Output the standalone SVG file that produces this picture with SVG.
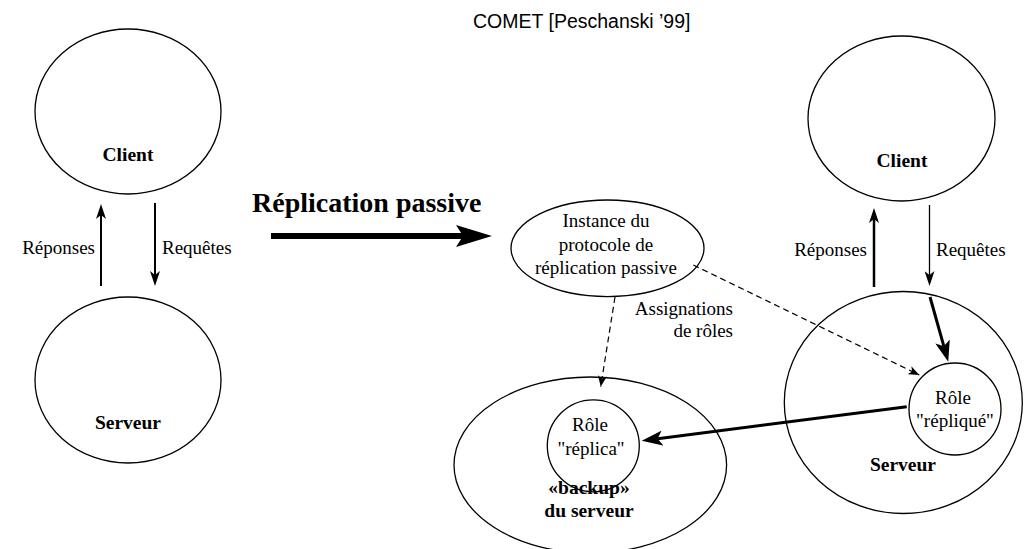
<svg xmlns="http://www.w3.org/2000/svg" width="1029" height="549" viewBox="0 0 1029 549">
<style>
.shape{fill:none;stroke:#000;stroke-width:1.3}
.t{font-family:"Liberation Serif","Times New Roman",serif;font-size:19px;fill:#000}
.b{font-family:"Liberation Serif","Times New Roman",serif;font-size:19.5px;font-weight:bold;fill:#000}
.c{text-anchor:middle}
.e{text-anchor:end}
.ln{fill:none;stroke:#000}
.dash{fill:none;stroke:#000;stroke-width:1.2;stroke-dasharray:6 4}
</style>
<defs>
<marker id="arr" markerUnits="userSpaceOnUse" markerWidth="15" markerHeight="10" refX="4" refY="5" orient="auto">
<path d="M0,0 L15,5 L0,10 L4,5 z" fill="#000"/>
</marker>
<marker id="arrL" markerUnits="userSpaceOnUse" markerWidth="21" markerHeight="15" refX="5" refY="7.5" orient="auto">
<path d="M0,0 L21,7.5 L0,15 L5,7.5 z" fill="#000"/>
</marker>
<marker id="arrD" markerUnits="userSpaceOnUse" markerWidth="11" markerHeight="9" refX="11" refY="4.5" orient="auto">
<path d="M0,0 L11,4.5 L0,9 L3,4.5 z" fill="#000"/>
</marker>
<marker id="arrB" markerUnits="userSpaceOnUse" markerWidth="36" markerHeight="22" refX="7" refY="11" orient="auto">
<path d="M0,0 L36,11 L0,22 L7,11 z" fill="#000"/>
</marker>
</defs>
<rect width="1029" height="549" fill="#fff"/>
<text x="473" y="28" font-family="'Liberation Sans',Arial,sans-serif" font-size="19.5" fill="#000">COMET [Peschanski ’99]</text>
<text x="252" y="212" font-family="'Liberation Serif','Times New Roman',serif" font-size="28" font-weight="bold" fill="#000">Réplication passive</text>

<g id="client-left">
<ellipse class="shape" cx="128" cy="111.5" rx="93" ry="82.5"/>
<text class="b c" x="128" y="161">Client</text>
</g>
<g id="serveur-left">
<ellipse class="shape" cx="128" cy="380" rx="93" ry="83"/>
<text class="b c" x="128" y="429">Serveur</text>
</g>
<g id="client-right">
<ellipse class="shape" cx="901.5" cy="118.5" rx="93.5" ry="82.5"/>
<text class="b c" x="902" y="167">Client</text>
</g>
<g id="instance">
<ellipse class="shape" cx="607.5" cy="248.3" rx="96.5" ry="48.3"/>
<text class="t c" x="606" y="227">Instance du</text>
<text class="t c" x="606" y="250.5">protocole de</text>
<text class="t c" x="606" y="273.5">réplication passive</text>
</g>
<g id="serveur-right">
<ellipse class="shape" cx="903.3" cy="402.5" rx="119" ry="111"/>
<text class="b c" x="903" y="471">Serveur</text>
</g>
<g id="role-replique">
<circle class="shape" cx="955" cy="409" r="46"/>
<text class="t c" x="953" y="404">Rôle</text>
<text class="t c" x="955" y="427">"répliqué"</text>
</g>
<g id="backup">
<ellipse class="shape" cx="590.3" cy="465" rx="136.3" ry="88"/>
<text class="b c" x="589" y="493.5">«backup»</text>
<text class="b c" x="589" y="517">du serveur</text>
</g>
<g id="role-replica">
<circle class="shape" cx="593.3" cy="445.8" r="46"/>
<text class="t c" x="590" y="431">Rôle</text>
<text class="t c" x="591" y="455">"réplica"</text>
</g>

<g id="connectors">
<line class="ln" x1="271" y1="236" x2="463" y2="236" stroke-width="6" marker-end="url(#arrB)"/>
<line class="ln" x1="101" y1="286" x2="101" y2="215" stroke-width="2" marker-end="url(#arr)"/>
<line class="ln" x1="155" y1="203" x2="155" y2="275" stroke-width="2" marker-end="url(#arr)"/>
<line class="ln" x1="874" y1="287" x2="874" y2="219" stroke-width="2.5" marker-end="url(#arr)"/>
<line class="ln" x1="929.5" y1="205" x2="929.5" y2="275" stroke-width="1.3" marker-end="url(#arr)"/>
<line class="ln" x1="930" y1="297" x2="943.9" y2="346.3" stroke-width="3" marker-end="url(#arrL)"/>
<line class="ln" x1="906.7" y1="406.7" x2="657.6" y2="438.7" stroke-width="3" marker-end="url(#arrL)"/>
<line class="dash" x1="615" y1="297" x2="600.7" y2="386.7" marker-end="url(#arrD)"/>
<line class="dash" x1="693.3" y1="265" x2="919.3" y2="375" marker-end="url(#arrD)"/>
</g>

<text class="t e" x="95" y="254">Réponses</text>
<text class="t" x="162" y="254">Requêtes</text>
<text class="t e" x="867" y="256">Réponses</text>
<text class="t" x="936" y="256">Requêtes</text>
<text class="t e" x="733" y="315">Assignations</text>
<text class="t e" x="733" y="337">de rôles</text>
</svg>
